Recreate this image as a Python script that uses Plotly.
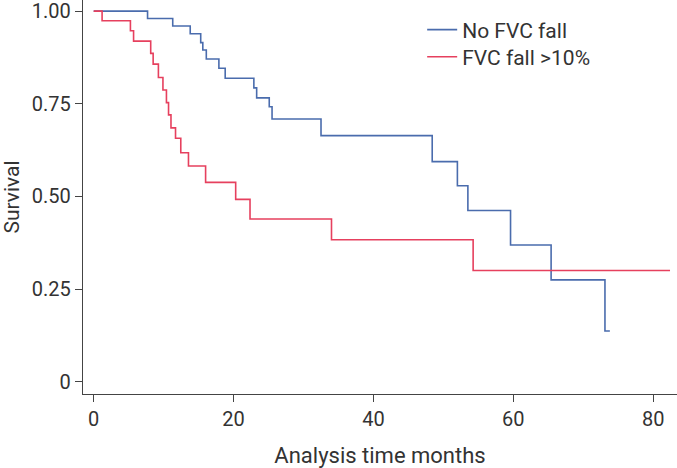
import plotly.graph_objects as go

# Kaplan-Meier step data
no_fall_t = [0, 7.7, 11.3, 13.8, 15.3, 15.6, 16.1, 17.9, 18.8, 22.9, 23.3, 25.1, 25.5,
             32.5, 48.4, 52.0, 53.5, 59.6, 65.4, 73.1, 73.8]
no_fall_s = [1.0, 0.980, 0.960, 0.939, 0.915, 0.895, 0.871, 0.846, 0.819, 0.793, 0.766,
             0.742, 0.709, 0.664, 0.594, 0.529, 0.462, 0.369, 0.275, 0.137, 0.137]

fall_t = [0, 1.2, 5.25, 5.7, 8.15, 8.5, 9.25, 9.9, 10.4, 10.7, 11.05, 11.7, 12.45,
          13.55, 16.0, 20.3, 22.35, 34.0, 54.25, 82.4]
fall_s = [1.0, 0.974, 0.947, 0.919, 0.886, 0.857, 0.821, 0.787, 0.753, 0.720, 0.685,
          0.657, 0.618, 0.582, 0.538, 0.492, 0.439, 0.383, 0.300, 0.300]

x_ticks = [0, 20, 40, 60, 80]
y_ticks = [0, 0.25, 0.5, 0.75, 1.0]
y_tick_text = ["0", "0.25", "0.50", "0.75", "1.00"]

BLUE = "#4a6cad"
RED = "#e6405e"
TXT = "#333333"
FONT = "Roboto, Liberation Sans, sans-serif"

fig = go.Figure()
fig.add_trace(go.Scatter(x=no_fall_t, y=no_fall_s, mode="lines", name="No FVC fall",
                         line=dict(color=BLUE, width=1.6, shape="hv"), legend="legend"))
fig.add_trace(go.Scatter(x=fall_t, y=fall_s, mode="lines", name="FVC fall >10%",
                         line=dict(color=RED, width=1.6, shape="hv"), legend="legend2"))

leg_common = dict(xanchor="left", yanchor="middle", bgcolor="rgba(0,0,0,0)",
                  font=dict(size=21, color=TXT), borderwidth=0)

fig.update_layout(
    width=677, height=468,
    margin=dict(l=83, r=0, t=0, b=74),
    paper_bgcolor="white", plot_bgcolor="white",
    font=dict(family=FONT, color=TXT, size=19),
    showlegend=True,
    legend=dict(x=0.571, y=0.924, **leg_common),
    legend2=dict(x=0.571, y=0.855, **leg_common),
    xaxis=dict(range=[-1.53, 83.4], tickvals=x_ticks, ticks="outside", ticklen=7,
               tickwidth=1.3, tickcolor="#444", showline=True, linecolor="#444",
               linewidth=1.3, showgrid=False, zeroline=False,
               tickfont=dict(size=20, color=TXT),
               title=dict(text="Analysis time months", font=dict(size=22, color=TXT),
                          standoff=17)),
    yaxis=dict(range=[-0.033, 1.03], tickvals=y_ticks, ticktext=y_tick_text,
               ticks="outside", ticklen=7, tickwidth=1.3, tickcolor="#444",
               showline=True, linecolor="#444", linewidth=1.3, showgrid=False,
               zeroline=False, tickfont=dict(size=20, color=TXT),
               ticklabeloverflow="allow",
               title=dict(text="Survival", font=dict(size=21, color=TXT), standoff=10)),
)

fig.write_html("out.html", config={"displayModeBar": False},
               post_script="document.body.style.margin='0';document.body.style.padding='0';")
